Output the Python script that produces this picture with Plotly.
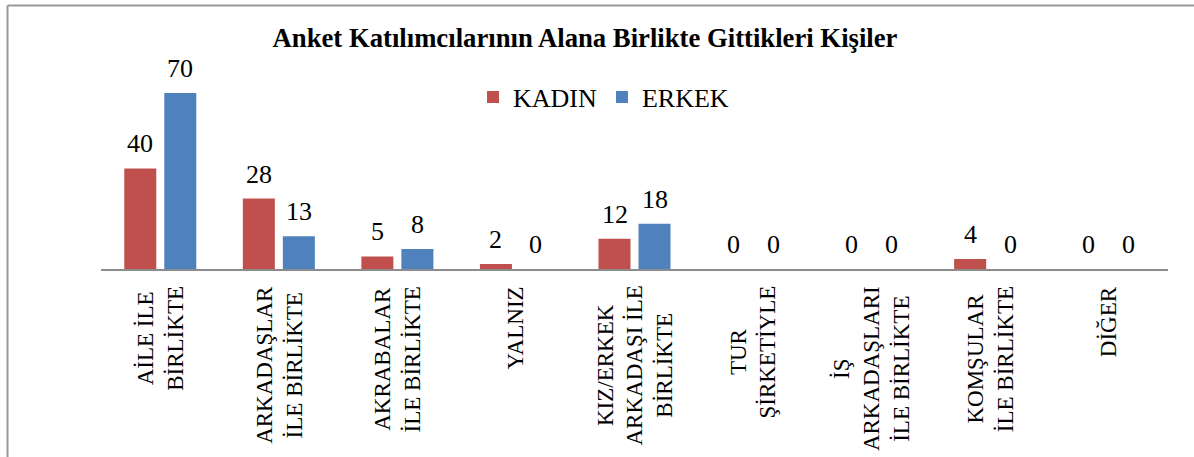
import plotly.graph_objects as go

categories = ["AİLE İLE<br>BİRLİKTE", "ARKADAŞLAR<br>İLE BİRLİKTE", "AKRABALAR<br>İLE BİRLİKTE",
              "YALNIZ", "KIZ/ERKEK<br>ARKADAŞI İLE<br>BİRLİKTE", "TUR<br>ŞİRKETİYLE",
              "İŞ<br>ARKADAŞLARI<br>İLE BİRLİKTE", "KOMŞULAR<br>İLE BİRLİKTE", "DİĞER"]
kadin = [40, 28, 5, 2, 12, 0, 0, 4, 0]
erkek = [70, 13, 8, 0, 18, 0, 0, 0, 0]
series_names = ["KADIN", "ERKEK"]
colors = ["#C0504D", "#4F81BD"]

# body margin is removed by the post script, so page pixels == figure pixels
W, H = 1194, 457
L, R, T, B = 101, 26, 60, 188
plot_w = W - L - R
plot_h = H - T - B

SERIF = "Liberation Serif, Times New Roman, serif"

fig = go.Figure()
for name, vals, col in zip(series_names, [kadin, erkek], colors):
    fig.add_trace(go.Bar(x=categories, y=vals, name=name, marker=dict(color=col, line=dict(width=0)),
                         hoverinfo="skip"))

annotations = []
# data labels
for vals, shift in zip([kadin, erkek], [-20, 20]):
    for c, v in zip(categories, vals):
        annotations.append(dict(x=c, y=v, xref="x", yref="y", text=str(v), showarrow=False,
                                xshift=shift, yshift=8, yanchor="bottom",
                                font=dict(family=SERIF, size=26, color="#000")))
# category labels
for c in categories:
    annotations.append(dict(x=c, y=0, xref="x", yref="y", text=c, showarrow=False,
                            textangle=-90, align="center", yanchor="top", yshift=-15,
                            font=dict(family=SERIF, size=23, color="#000")))

def px_x(p):  # page pixel -> paper x
    return (p - L) / plot_w

def px_y(p):  # page pixel -> paper y
    return (H - B - p) / plot_h

fig.update_layout(
    width=W, height=H,
    margin=dict(l=L, r=R, t=T, b=B),
    paper_bgcolor="white", plot_bgcolor="white",
    barmode="group", bargap=0.325, bargroupgap=0.2,
    title=dict(text="<b>Anket Katılımcılarının Alana Birlikte Gittikleri Kişiler</b>",
               x=585 / W, xanchor="center", y=1 - 38 / H, yanchor="middle",
               font=dict(family=SERIF, size=26.7, color="#000")),
    legend=dict(orientation="h", x=px_x(473), xanchor="left", y=px_y(97), yanchor="middle",
                font=dict(family=SERIF, size=26, color="#000"), bgcolor="rgba(0,0,0,0)"),
    xaxis=dict(showticklabels=False, ticks="", showgrid=False, showline=True,
               linecolor="#8C8C8C", linewidth=2, zeroline=False, fixedrange=True),
    yaxis=dict(range=[0, plot_h / 2.514], visible=False, showgrid=False, zeroline=False,
               fixedrange=True),
    annotations=annotations,
    shapes=[
        dict(type="line", xref="paper", yref="paper",
             x0=px_x(7.5), x1=px_x(1300), y0=px_y(5.5), y1=px_y(5.5),
             line=dict(color="#999999", width=2), layer="below"),
        dict(type="line", xref="paper", yref="paper",
             x0=px_x(7.5), x1=px_x(7.5), y0=px_y(5.5), y1=px_y(600),
             line=dict(color="#999999", width=2), layer="below"),
    ],
)

fig.write_html("out.html",
               config={"displayModeBar": False, "staticPlot": True},
               post_script="document.body.style.margin='0';document.documentElement.style.overflow='hidden';document.body.style.overflow='hidden';")
